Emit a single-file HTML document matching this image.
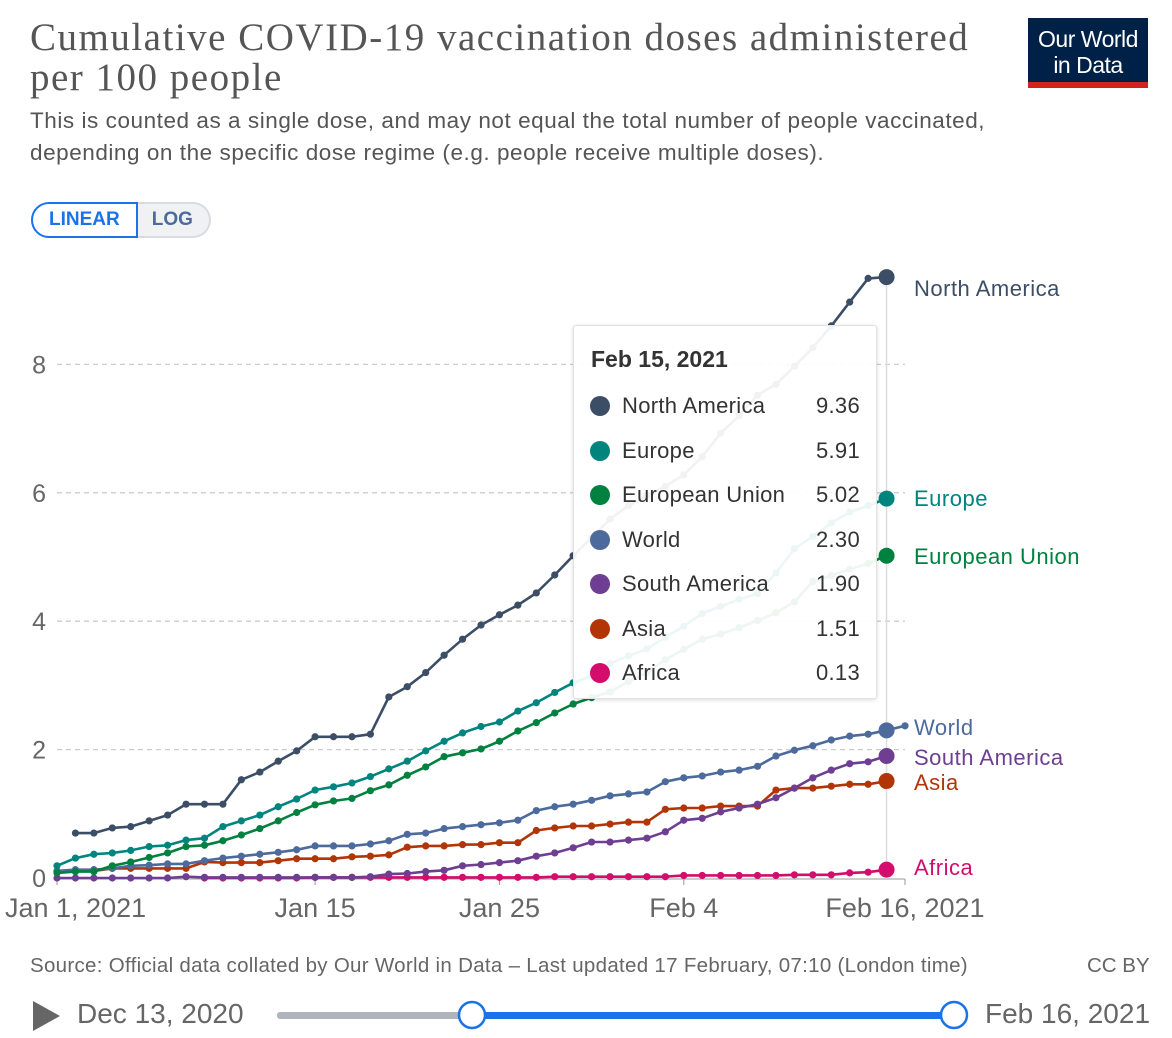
<!DOCTYPE html>
<html><head><meta charset="utf-8">
<style>
html,body{margin:0;padding:0;background:#fff;width:1172px;height:1038px;overflow:hidden;font-family:"Liberation Sans",sans-serif;}
.title{position:absolute;left:30px;top:18px;font-family:"Liberation Serif",serif;font-size:39px;line-height:40px;color:#555;letter-spacing:1.5px;white-space:nowrap}
.sub{position:absolute;left:30px;top:105px;font-size:22.5px;line-height:32px;color:#555;letter-spacing:0.55px;white-space:nowrap}
.logo{position:absolute;left:1028px;top:18px;width:120px;height:70px;background:#002147;color:#fff;font-size:23px;line-height:26px;text-align:center;box-sizing:border-box;padding-top:8px;border-bottom:6px solid #ce261e;letter-spacing:-0.5px}
.btns{position:absolute;left:31px;top:202px;height:36px;display:flex;}
.btn{font-weight:bold;font-size:19px;line-height:32px;box-sizing:border-box;height:36px;}
.src{position:absolute;left:30px;top:954px;font-size:20.5px;color:#666;letter-spacing:0.3px;white-space:nowrap}
.cc{position:absolute;left:1087px;top:954px;font-size:20.5px;color:#666;}
.tl{position:absolute;top:998px;font-size:28px;color:#666;}
</style></head><body>
<div class="title">Cumulative COVID-19 vaccination doses administered<br>per 100 people</div>
<div class="sub">This is counted as a single dose, and may not equal the total number of people vaccinated,<br>depending on the specific dose regime (e.g. people receive multiple doses).</div>
<div class="logo">Our World<br>in Data</div>
<div class="btns">
<div class="btn" style="border:2px solid #1a73e8;color:#1a73e8;border-radius:18px 0 0 18px;padding:0 16px;background:#fff">LINEAR</div>
<div class="btn" style="border:2px solid #d8dbe0;border-left:none;color:#4c6a9c;border-radius:0 18px 18px 0;padding:0 16px 0 14px;background:#f0f1f3">LOG</div>
</div>
<svg id="chart" width="1172" height="1038" style="position:absolute;left:0;top:0"></svg>
<div class="src">Source: Official data collated by Our World in Data – Last updated 17 February, 07:10 (London time)</div>
<div class="cc">CC BY</div>
<svg width="1172" height="1038" style="position:absolute;left:0;top:0;pointer-events:none">
<polygon points="33,1001 33,1031 60,1016" fill="#666" style="pointer-events:auto"/>
<rect x="277" y="1012" width="678" height="7" rx="3" fill="#b0b5bd"/>
<rect x="472" y="1012" width="483" height="7" fill="#1a73e8"/>
<circle cx="472" cy="1015" r="13" fill="#fff" stroke="#1a73e8" stroke-width="2.5"/>
<circle cx="954" cy="1015" r="13" fill="#fff" stroke="#1a73e8" stroke-width="2.5"/>
</svg>
<div class="tl" style="left:77px">Dec 13, 2020</div>
<div class="tl" style="left:985px">Feb 16, 2021</div>
<div id="tip" style="position:absolute;left:573px;top:325px;width:304px;height:374px;background:rgba(255,255,255,0.93);border:1px solid #e2e2e2;border-radius:3px;box-shadow:0 1px 4px rgba(0,0,0,0.15);box-sizing:border-box;"></div>
<script>
const seriesNames=["North America","Europe","European Union","World","South America","Asia","Africa"];
const seriesColors=["#3c4e66","#00847e","#00813f","#4c6a9c","#6d3e91","#b13507","#d40d6c"];
const seriesStart=[1,0,0,0,0,0,8];
const northAmerica=[0.70,0.70,0.78,0.80,0.89,0.98,1.15,1.15,1.15,1.53,1.65,1.82,1.98,2.20,2.20,2.20,2.24,2.82,2.98,3.20,3.47,3.72,3.94,4.10,4.25,4.44,4.72,5.02,5.30,5.59,5.80,5.95,6.10,6.28,6.56,6.93,7.20,7.52,7.69,7.97,8.26,8.60,8.97,9.34,9.36];
const europe=[0.19,0.31,0.37,0.39,0.43,0.49,0.51,0.59,0.62,0.80,0.89,0.98,1.11,1.23,1.37,1.42,1.48,1.58,1.70,1.82,1.98,2.13,2.26,2.36,2.43,2.60,2.73,2.89,3.04,3.15,3.34,3.46,3.57,3.75,3.92,4.12,4.23,4.34,4.43,4.75,5.13,5.32,5.53,5.70,5.80,5.91];
const europeanUnion=[0.08,0.10,0.10,0.19,0.25,0.32,0.39,0.49,0.51,0.58,0.67,0.77,0.89,1.02,1.14,1.20,1.24,1.36,1.45,1.60,1.73,1.89,1.95,2.01,2.13,2.29,2.42,2.57,2.71,2.81,2.90,3.06,3.20,3.40,3.56,3.72,3.80,3.90,4.01,4.13,4.30,4.62,4.71,4.81,4.90,5.02];
const world=[0.11,0.13,0.13,0.15,0.19,0.20,0.22,0.22,0.27,0.31,0.34,0.37,0.40,0.44,0.50,0.50,0.50,0.53,0.58,0.68,0.70,0.77,0.80,0.83,0.86,0.90,1.05,1.11,1.15,1.21,1.28,1.31,1.34,1.50,1.56,1.59,1.65,1.68,1.74,1.90,1.99,2.06,2.15,2.21,2.24,2.30,2.37];
const southAmerica=[0.00,0.00,0.00,0.00,0.00,0.00,0.00,0.02,0.01,0.01,0.01,0.01,0.01,0.01,0.01,0.01,0.01,0.02,0.06,0.07,0.10,0.12,0.19,0.21,0.24,0.27,0.34,0.39,0.47,0.56,0.56,0.59,0.62,0.72,0.90,0.93,1.03,1.09,1.15,1.25,1.40,1.56,1.68,1.78,1.81,1.90];
const asia=[0.10,0.12,0.11,0.15,0.15,0.15,0.15,0.15,0.25,0.24,0.24,0.24,0.27,0.30,0.30,0.30,0.33,0.34,0.36,0.48,0.50,0.50,0.52,0.52,0.55,0.55,0.74,0.78,0.81,0.81,0.84,0.87,0.87,1.07,1.09,1.09,1.12,1.12,1.12,1.37,1.40,1.40,1.43,1.46,1.46,1.51];
const africa=[0.00,0.00,0.00,0.00,0.00,0.00,0.01,0.01,0.01,0.01,0.01,0.01,0.01,0.01,0.01,0.01,0.01,0.01,0.01,0.02,0.02,0.02,0.02,0.02,0.02,0.02,0.04,0.04,0.04,0.04,0.04,0.04,0.05,0.05,0.05,0.08,0.09,0.13];
const seriesValues=[northAmerica,europe,europeanUnion,world,southAmerica,asia,africa];
const labelY=[288,498,556,727,757,782,867];
const yTicks=[0,2,4,6,8];
const xTickDays=[0,14,24,34,46];
const xTickLabels=["Jan 1, 2021","Jan 15","Jan 25","Feb 4","Feb 16, 2021"];
const tooltipDate="Feb 15, 2021";
const tooltipValues=["9.36","5.91","5.02","2.30","1.90","1.51","0.13"];
const hoverDay=45;

const NS="http://www.w3.org/2000/svg";
const svg=document.getElementById('chart');
const x0=57,x1=905,y0=878,pxPerUnit=64.2;
function xs(d){return x0+d*(x1-x0)/46;}
function ys(v){return y0-v*pxPerUnit;}
function mk(tag,attrs,parent){const e=document.createElementNS(NS,tag);for(const k in attrs)e.setAttribute(k,attrs[k]);(parent||svg).appendChild(e);return e;}

yTicks.forEach(t=>{
  if(t>0){const g=mk('line',{x1:x0,x2:x1,y1:ys(t),y2:ys(t),stroke:'#ccc','stroke-dasharray':'5,4','stroke-width':1.3});
  
  }
  const tx=mk('text',{x:46,y:ys(t)+9,'text-anchor':'end','font-size':25,fill:'#666','font-family':'Liberation Sans, sans-serif'});
  tx.textContent=t;
  
  
});
const ax=mk('line',{x1:x0,x2:x1,y1:y0+1,y2:y0+1,stroke:'#999','stroke-width':1});


xTickDays.forEach((d,i)=>{
  const tk=mk('line',{x1:xs(d),x2:xs(d),y1:y0+1,y2:y0+7,stroke:'#999'});
  
  
  let anchor='middle',xx=xs(d);
  if(i===0){anchor='start';xx=5;}
  if(i===xTickDays.length-1){anchor='middle';xx=905;}
  const tx=mk('text',{x:xx,y:917,'text-anchor':anchor,'font-size':27,fill:'#666','font-family':'Liberation Sans, sans-serif'});
  tx.textContent=xTickLabels[i];
  
  
});
const hl=mk('line',{x1:xs(hoverDay),x2:xs(hoverDay),y1:270,y2:y0,stroke:'#ddd','stroke-width':1.5});



for(let s=seriesValues.length-1;s>=0;s--){
  const vals=seriesValues[s],st=seriesStart[s],c=seriesColors[s];
  const g=mk('g',{});
  
  
  const pts=vals.map((v,i)=>xs(st+i).toFixed(1)+','+ys(v).toFixed(1)).join(' ');
  const pl=mk('polyline',{points:pts,fill:'none',stroke:c,'stroke-width':2.6,'stroke-linejoin':'round'},g);
  
  
  vals.forEach((v,i)=>{
    const big=(st+i)===hoverDay;
    const ci=mk('circle',{cx:xs(st+i),cy:ys(v),r:big?8:3.6,fill:c},g);
    
    
  });
  const lb=mk('text',{x:914,y:labelY[s]+8,'font-size':22,fill:c,'font-family':'Liberation Sans, sans-serif','letter-spacing':'0.5'});
  lb.textContent=seriesNames[s];
  
  
}

const tip=document.getElementById('tip');
let h='<div style="position:absolute;left:17px;top:20px;font-weight:bold;font-size:23px;color:#333">'+tooltipDate+'</div>';
seriesNames.forEach((n,i)=>{
  const y=65+i*44.5;
  h+='<div style="position:absolute;left:16px;top:'+y+'px;width:272px;height:30px;font-size:22px;color:#333;line-height:30px;letter-spacing:0.3px">'+
  '<span style="position:absolute;left:0;top:5px;width:20px;height:20px;border-radius:50%;background:'+seriesColors[i]+'"></span>'+
  '<span style="position:absolute;left:32px">'+n+'</span>'+
  '<span style="position:absolute;right:2px">'+tooltipValues[i]+'</span></div>';
});
tip.innerHTML=h;
</script>
</body></html>
